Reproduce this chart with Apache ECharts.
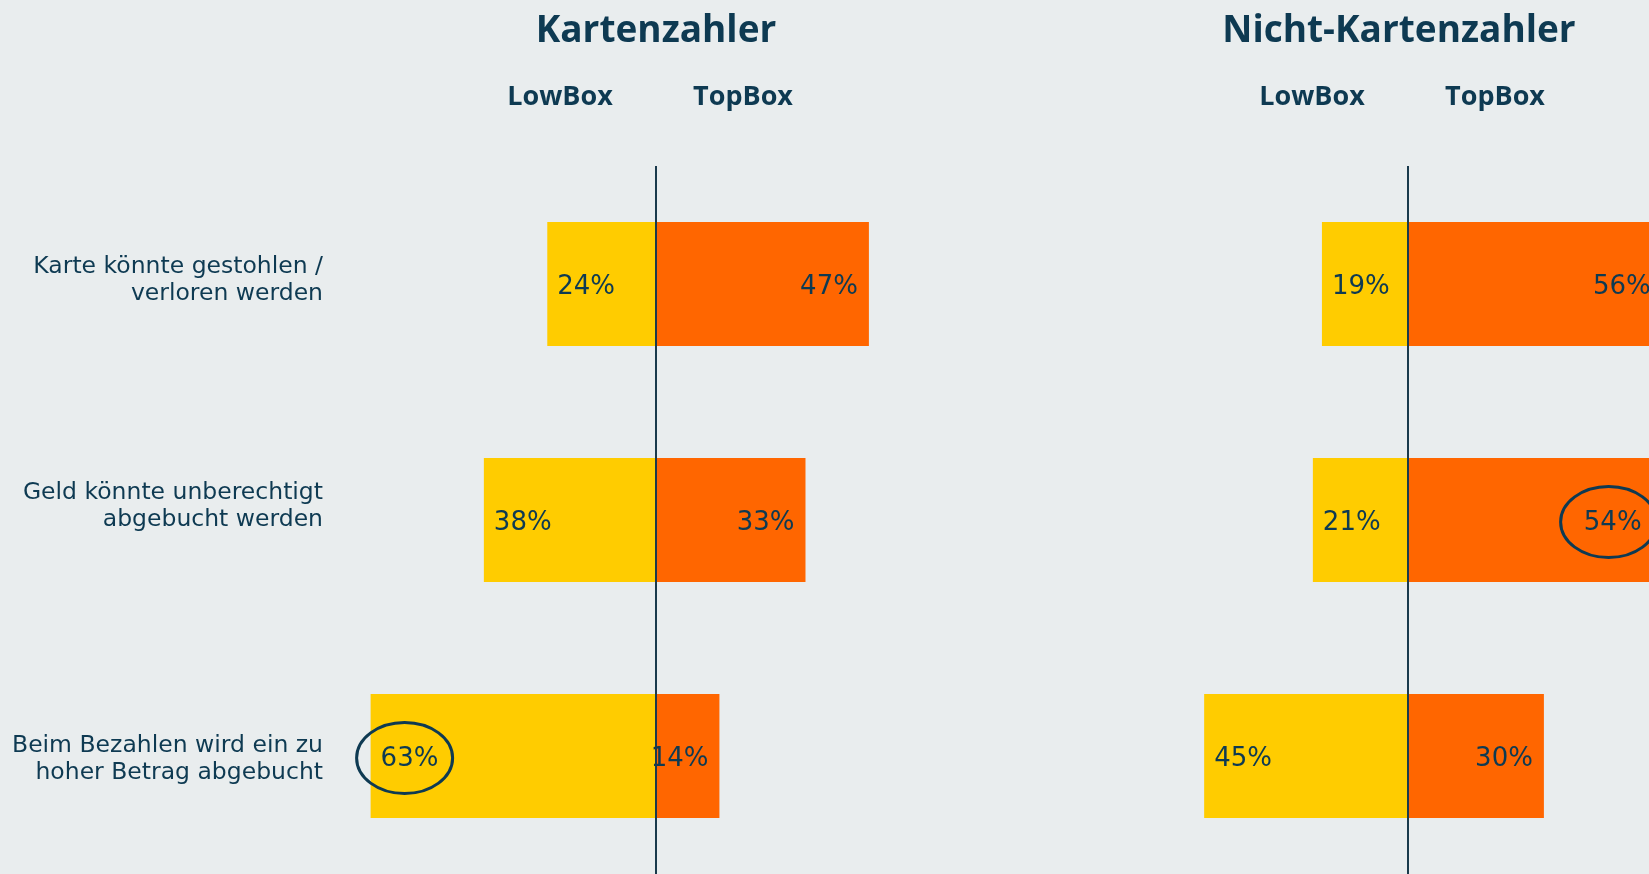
<!DOCTYPE html>
<html>
<head>
<meta charset="utf-8">
<script src="https://cdn.jsdelivr.net/npm/echarts@6/dist/echarts.min.js"></script>
<style>
	html, body { margin: 0; padding: 0; background: #e9edee; }
	#main { width: 1649px; height: 874px; }
</style>
</head>
<body>
<div id="main"></div>
<script>
	'use strict';
	// data
	var categories = [
		'Karte könnte gestohlen /\nverloren werden',
		'Geld könnte unberechtigt\nabgebucht werden',
		'Beim Bezahlen wird ein zu\nhoher Betrag abgebucht'
	];
	var panelTitles = ['Kartenzahler', 'Nicht-Kartenzahler'];
	var boxNames = ['LowBox', 'TopBox'];
	var kartenLow = [24, 38, 63];
	var kartenTop = [47, 33, 14];
	var nichtLow = [19, 21, 45];
	var nichtTop = [56, 54, 30];
	// circled values: panel, series (0 low / 1 top), category index
	var circled = [[0, 0, 2], [1, 1, 1]];

	var navy = '#0e3a52';
	var yellow = '#ffcc00';
	var orange = '#ff6600';
	var font = '"Open Sans", "Noto Sans", sans-serif';
	var wideFont = '"DejaVu Sans", Verdana, sans-serif';
	// nudge of each category label upward (px)
	var labelShift = [3.5, 14, -3];

	var centers = [656, 1408];
	var titleX = [656, 1399];
	var pxPerPct = 4.53;
	var ranges = [[-70, 70], [-70, 50]];

	var chart = echarts.init(document.getElementById('main'));

	function neg(arr) {
		return arr.map(function (v) { return -v; });
	}

	function barSeries(name, idx, data, color, pos) {
		var s = {
			name: name,
			type: 'bar',
			xAxisIndex: idx,
			yAxisIndex: idx,
			stack: 'p' + idx,
			barWidth: 124,
			clip: false,
			data: data,
			itemStyle: { color: color },
			label: {
				show: true,
				position: pos,
				distance: pos === 'insideLeft' ? 10 : 11,
				offset: [0, 3],
				color: navy,
				fontFamily: wideFont,
				fontSize: 26,
				formatter: function (p) { return Math.abs(p.value) + '%'; }
			},
			silent: true
		};
		if (pos === 'insideLeft') {
			s.markLine = {
				silent: true,
				symbol: 'none',
				label: { show: false },
				lineStyle: { color: '#1a3a4c', width: 2, type: 'solid' },
				data: [{ xAxis: 0 }]
			};
		}
		return s;
	}

	var grids = [], xAxes = [], yAxes = [];
	centers.forEach(function (c, i) {
		grids.push({
			left: c + ranges[i][0] * pxPerPct,
			width: (ranges[i][1] - ranges[i][0]) * pxPerPct,
			top: 166,
			height: 711
		});
		xAxes.push({ type: 'value', gridIndex: i, min: ranges[i][0], max: ranges[i][1], show: false });
		yAxes.push({
			type: 'category',
			gridIndex: i,
			inverse: true,
			data: categories,
			axisLine: { show: false, onZero: false },
			axisTick: { show: false },
			axisLabel: { show: false }
		});
	});

	var headers = [];
	panelTitles.forEach(function (t, i) {
		headers.push({
			type: 'text', x: titleX[i], y: 31,
			style: { text: t, font: 'bold 37px ' + font, fill: navy, align: 'center', verticalAlign: 'middle' }
		});
		headers.push({
			type: 'text', x: centers[i] - 96, y: 97,
			style: { text: boxNames[0], font: 'bold 27px ' + font, fill: navy, align: 'center', verticalAlign: 'middle' }
		});
		headers.push({
			type: 'text', x: centers[i] + 87, y: 97,
			style: { text: boxNames[1], font: 'bold 27px ' + font, fill: navy, align: 'center', verticalAlign: 'middle' }
		});
	});

	var option = {
		backgroundColor: '#e9edee',
		animation: false,
		grid: grids,
		xAxis: xAxes,
		yAxis: yAxes,
		series: [
			barSeries('LowBox', 0, neg(kartenLow), yellow, 'insideLeft'),
			barSeries('TopBox', 0, kartenTop, orange, 'insideRight'),
			barSeries('LowBox', 1, neg(nichtLow), yellow, 'insideLeft'),
			barSeries('TopBox', 1, nichtTop, orange, 'insideRight')
		],
		graphic: headers
	};
	chart.setOption(option);

	var graphics = headers.slice();

	// category labels, placed at the axis' category positions
	categories.forEach(function (c, k) {
		var p = chart.convertToPixel({ gridIndex: 0 }, [ranges[0][0], k]);
		graphics.push({
			type: 'text', x: 323, y: p[1] - labelShift[k],
			style: {
				text: c, font: '23.5px ' + wideFont, fill: navy, lineHeight: 27,
				align: 'right', verticalAlign: 'middle'
			}
		});
	});

	// rings round the highlighted labels, placed from the data
	var sets = [[kartenLow, kartenTop], [nichtLow, nichtTop]];
	circled.forEach(function (c) {
		var v = sets[c[0]][c[1]][c[2]];
		var p = chart.convertToPixel({ gridIndex: c[0] }, [c[1] === 0 ? -v : v, c[2]]);
		graphics.push({
			type: 'ellipse',
			shape: { cx: p[0] + (c[1] === 0 ? 34 : -44), cy: p[1] + 2, rx: 48, ry: 35.5 },
			style: { fill: 'none', stroke: navy, lineWidth: 3 },
			z: 100
		});
	});
	chart.setOption({ graphic: graphics });
</script>
</body>
</html>
